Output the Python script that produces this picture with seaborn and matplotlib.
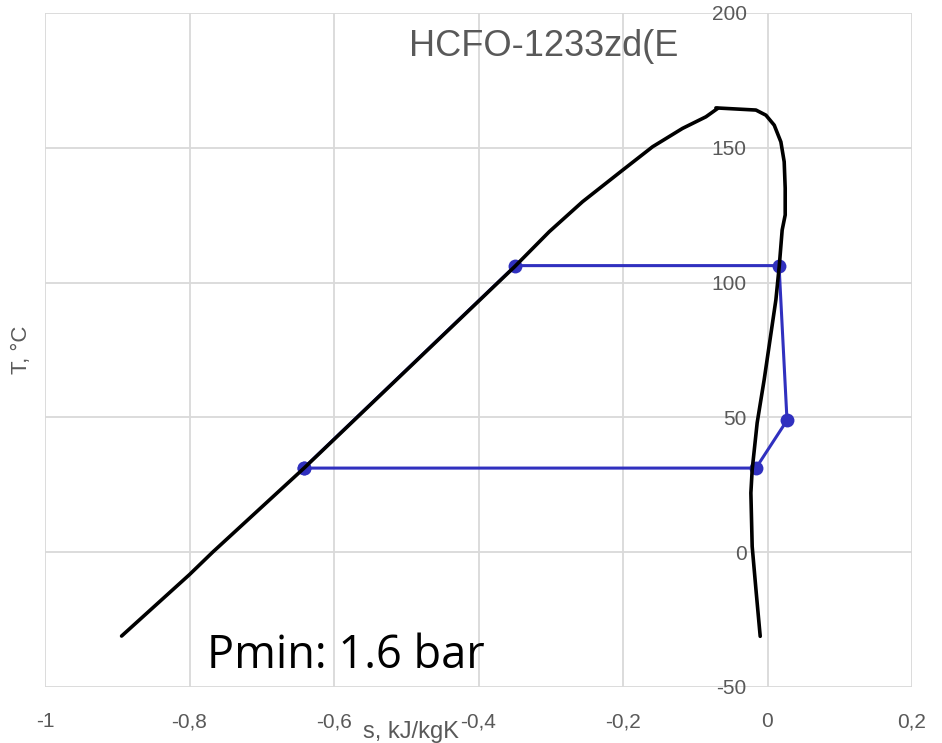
import matplotlib
matplotlib.use('Agg')
import matplotlib.pyplot as plt
import seaborn as sns
import pandas as pd

# saturation dome, liquid side (s in kJ/kgK, T in degC)
liq_s = [-0.894, -0.800, -0.768, -0.641, -0.593, -0.350, -0.302, -0.256, -0.2006,
         -0.159, -0.1176, -0.0852, -0.069]
liq_T = [-31.1, -8.3, 0.0, 31.3, 43.6, 105.9, 118.9, 130.0, 141.7,
         150.4, 157.2, 161.5, 164.6]

# saturation dome, vapour side
vap_s = [-0.0714, -0.016, -0.0022, 0.0093, 0.0185, 0.0231, 0.0245, 0.0245, 0.0203,
         0.0162, 0.0116, -0.0046, -0.0143, -0.0212, -0.023, -0.0212, -0.0156, -0.0101]
vap_T = [164.8, 164.0, 162.1, 158.4, 152.2, 144.8, 135.0, 125.1, 119.5,
         105.9, 93.6, 64.0, 48.0, 30.6, 22.0, 2.1, -15.0, -31.2]

# cycle points
cyc_s = [-0.642, -0.349, 0.016, 0.027, -0.016, -0.642]
cyc_T = [31.2, 106.3, 106.3, 48.9, 31.2, 31.2]

x_ticks = [-1, -0.8, -0.6, -0.4, -0.2, 0, 0.2]
x_labels = ['-1', '-0,8', '-0,6', '-0,4', '-0,2', '0', '0,2']
y_ticks = [-50, 0, 50, 100, 150, 200]

sns.set_style('white')
plt.rcParams['font.family'] = ['Liberation Sans', 'DejaVu Sans']
plt.rcParams['axes.unicode_minus'] = False

grey = '#595959'
fig = plt.figure(figsize=(9.42, 7.43), dpi=100)
ax = fig.add_axes([45 / 942, 56 / 743, 867 / 942, 674 / 743])

cycle = pd.DataFrame({'s': cyc_s, 'T': cyc_T})
liq = pd.DataFrame({'s': liq_s, 'T': liq_T})
vap = pd.DataFrame({'s': vap_s, 'T': vap_T})

sns.lineplot(data=cycle, x='s', y='T', sort=False, estimator=None, color='#3030BF',
             linewidth=2.2, marker='o', markersize=10, markeredgewidth=0, ax=ax, zorder=3)
sns.lineplot(data=liq, x='s', y='T', sort=False, estimator=None, color='black',
             linewidth=2.6, ax=ax, zorder=4)
sns.lineplot(data=vap, x='s', y='T', sort=False, estimator=None, color='black',
             linewidth=2.6, ax=ax, zorder=4)

ax.set_xlim(-1, 0.2)
ax.set_ylim(-50, 200)
ax.set_xticks(x_ticks)
ax.set_xticklabels(x_labels)
ax.set_yticks(y_ticks)
ax.grid(True, color='#D9D9D9', linewidth=1.3)
ax.set_axisbelow(True)

for sp in ax.spines.values():
    sp.set_visible(False)
ax.spines['left'].set_position(('data', 0))

ax.tick_params(axis='x', length=0, pad=18, labelsize=15, labelcolor=grey)
ax.tick_params(axis='y', length=0, pad=15, labelsize=15, labelcolor=grey)

ax.set_xlabel('s, kJ/kgK', fontsize=17, color=grey)
ax.xaxis.set_label_coords(0.422, -0.051)
ax.set_ylabel('T, °C', fontsize=16, color=grey)
ax.yaxis.set_label_coords(-0.015, 0.5)

ax.text(0.5755, 0.951, 'HCFO-1233zd(E', transform=ax.transAxes, ha='center', va='center',
        fontsize=26, color=grey)
ax.text(0.187, 0.028, 'Pmin: 1.6 bar', transform=ax.transAxes, ha='left', va='baseline',
        fontsize=32.5, color='black', family=['Open Sans', 'DejaVu Sans'])

fig.savefig('out.png', dpi=100)
